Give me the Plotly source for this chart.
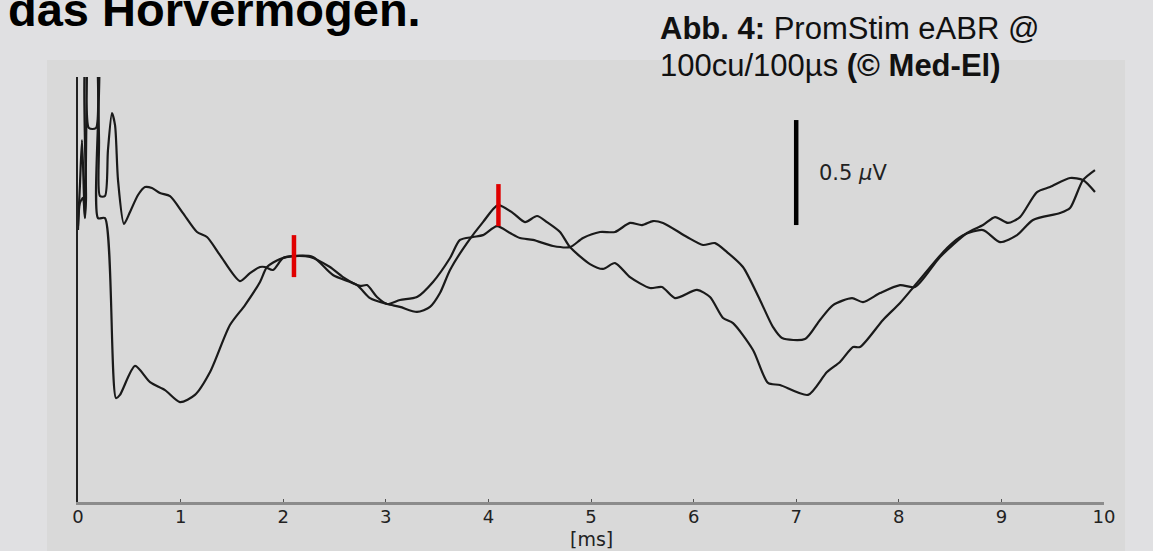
import plotly.graph_objects as go

# Données : deux réponses eABR (temps en ms, amplitude en µV)

t_a = [0, 0.019, 0.039, 0.058, 0.068, 0.093, 0.107, 0.175, 0.185, 0.205, 0.214, 0.263,
       0.292, 0.331, 0.361, 0.390, 0.448, 0.507, 0.585, 0.653, 0.721, 0.799, 0.897,
       1.023, 1.160, 1.257, 1.384, 1.579, 1.676, 1.774, 1.823, 1.901, 1.998, 2.096,
       2.261, 2.456, 2.583, 2.749, 2.817, 2.914, 3.012, 3.138, 3.304, 3.460, 3.626,
       3.723, 3.850, 3.947, 4.084, 4.211, 4.308, 4.435, 4.630, 4.795, 4.922, 5.088,
       5.234, 5.380, 5.497, 5.604, 5.702, 5.936, 6.092, 6.209, 6.326, 6.481, 6.647,
       6.774, 6.862, 7.086, 7.232, 7.359, 7.544, 7.651, 7.817, 8.012, 8.158, 8.402,
       8.665, 8.821, 8.938, 9.064, 9.181, 9.347, 9.474, 9.669, 9.795, 9.912]
v_a = [1.314, 1.510, 1.724, 1.462, 1.357, 2.2, 1.781, 1.781, 2.2, 1.724, 1.457, 1.457,
       1.676, 1.852, 1.795, 1.533, 1.324, 1.381, 1.462, 1.500, 1.495, 1.471, 1.457,
       1.376, 1.286, 1.262, 1.176, 1.052, 1.090, 1.119, 1.119, 1.105, 1.162, 1.171,
       1.167, 1.119, 1.071, 1.029, 1.033, 0.976, 0.943, 0.962, 0.976, 1.048, 1.162,
       1.248, 1.262, 1.271, 1.314, 1.281, 1.257, 1.248, 1.219, 1.214, 1.257, 1.286,
       1.286, 1.329, 1.319, 1.338, 1.329, 1.262, 1.224, 1.233, 1.190, 1.119, 0.962,
       0.833, 0.781, 0.776, 0.867, 0.938, 0.971, 0.952, 0.995, 1.033, 1.024, 1.167,
       1.281, 1.319, 1.357, 1.329, 1.357, 1.476, 1.500, 1.543, 1.533, 1.476]

t_b = [0, 0.019, 0.049, 0.068, 0.078, 0.097, 0.185, 0.195, 0.263, 0.370, 0.409, 0.556,
       0.702, 0.848, 0.994, 1.140, 1.287, 1.481, 1.628, 1.774, 1.842, 1.969, 2.096,
       2.290, 2.485, 2.719, 2.846, 3.012, 3.138, 3.304, 3.431, 3.528, 3.626, 3.791,
       3.947, 4.094, 4.240, 4.357, 4.474, 4.571, 4.698, 4.795, 4.990, 5.117, 5.234,
       5.380, 5.575, 5.692, 5.819, 6.033, 6.160, 6.287, 6.384, 6.579, 6.725, 6.842,
       7.115, 7.300, 7.427, 7.554, 7.622, 7.846, 8.012, 8.177, 8.470, 8.626, 8.821,
       8.986, 9.152, 9.308, 9.571, 9.669, 9.795, 9.912]
v_b = [1.295, 1.424, 1.448, 1.352, 1.438, 2.2, 2.2, 1.352, 1.352, 0.495, 0.510, 0.648,
       0.571, 0.533, 0.476, 0.510, 0.619, 0.843, 0.938, 1.048, 1.119, 1.157, 1.171,
       1.167, 1.081, 1.033, 0.971, 0.943, 0.929, 0.905, 0.929, 0.995, 1.105, 1.233,
       1.333, 1.414, 1.376, 1.333, 1.362, 1.333, 1.286, 1.214, 1.133, 1.110, 1.138,
       1.071, 1.019, 1.024, 0.971, 1.010, 0.976, 0.876, 0.852, 0.724, 0.567, 0.557,
       0.510, 0.619, 0.667, 0.738, 0.738, 0.867, 0.948, 1.043, 1.210, 1.271, 1.295,
       1.238, 1.271, 1.343, 1.376, 1.400, 1.533, 1.581]

# Marqueurs des pics (latence en ms, bas et haut en µV)
pic_ms = [2.105, 4.098]
pic_bas = [1.071, 1.314]
pic_haut = [1.271, 1.514]

# Barre d'échelle 0.5 µV
echelle_ms = 7.0
echelle_bas = 1.319
echelle_haut = 1.819

ticks_ms = [0, 1, 2, 3, 4, 5, 6, 7, 8, 9, 10]

fig = go.Figure()

for t, v in [(t_a, v_a), (t_b, v_b)]:
    fig.add_trace(go.Scatter(x=t, y=v, mode="lines",
                             line=dict(color="#1a1a1a", width=2.2,
                                       shape="spline", smoothing=0.7)))

px_pic, py_pic = [], []
for m, lo, hi in zip(pic_ms, pic_bas, pic_haut):
    px_pic += [m, m, None]
    py_pic += [lo, hi, None]
fig.add_trace(go.Scatter(x=px_pic, y=py_pic, mode="lines",
                         line=dict(color="#e00000", width=4.5)))

fig.add_trace(go.Scatter(x=[echelle_ms, echelle_ms], y=[echelle_bas, echelle_haut],
                         mode="lines", line=dict(color="#000000", width=4.5)))

fig.add_annotation(x=echelle_ms + 0.2, y=(echelle_bas + echelle_haut) / 2,
                   text="0.5 <i>µ</i>V", showarrow=False, xanchor="left",
                   font=dict(family="DejaVu Sans", size=21, color="#222222"))

# Titre de l'axe x
fig.add_annotation(x=5, y=-0.087, xref="x", yref="paper", text="[ms]",
                   showarrow=False, yanchor="middle",
                   font=dict(family="DejaVu Sans", size=19, color="#222222"))

# Textes de la diapositive
fig.add_annotation(x=-0.0702, y=1.159, xref="paper", yref="paper",
                   text="<b>das Hörvermögen.</b>", showarrow=False,
                   xanchor="left", yanchor="middle",
                   font=dict(family="Liberation Sans", size=47, color="#000000"))
fig.add_annotation(x=0.5653, y=1.1148, xref="paper", yref="paper",
                   text="<b>Abb. 4:</b> PromStim eABR @", showarrow=False,
                   xanchor="left", yanchor="middle",
                   font=dict(family="Liberation Sans", size=31, color="#111111"))
fig.add_annotation(x=0.5653, y=1.0278, xref="paper", yref="paper",
                   text="100cu/100µs <b>(© Med-El)</b>", showarrow=False,
                   xanchor="left", yanchor="middle",
                   font=dict(family="Liberation Sans", size=31, color="#111111"))

# Cadre gris clair
fig.add_shape(type="rect", xref="paper", yref="paper",
              x0=-0.0302, x1=1.0205, y0=-0.1153, y1=1.04,
              fillcolor="#d9d9d9", line=dict(width=0), layer="below")

fig.update_layout(
    width=1153, height=551,
    margin=dict(l=78, r=49, t=77, b=49),
    paper_bgcolor="#e0e0e2", plot_bgcolor="#d9d9d9",
    showlegend=False,
    xaxis=dict(range=[0, 10], tickvals=ticks_ms, ticks="inside", ticklen=3,
               tickcolor="#555555", showline=True, linecolor="#8c8c8c", linewidth=3,
               showgrid=False, zeroline=False, automargin=False,
               ticklabelstandoff=-4,
               tickfont=dict(family="DejaVu Sans", size=18, color="#222222")),
    yaxis=dict(range=[0, 2.024], showline=True, linecolor="#222222", linewidth=1.5,
               showticklabels=False, ticks="", showgrid=False, zeroline=False,
               automargin=False),
)

fig.write_html("out.html", config={"displayModeBar": False},
               post_script="document.body.style.margin='0';")
